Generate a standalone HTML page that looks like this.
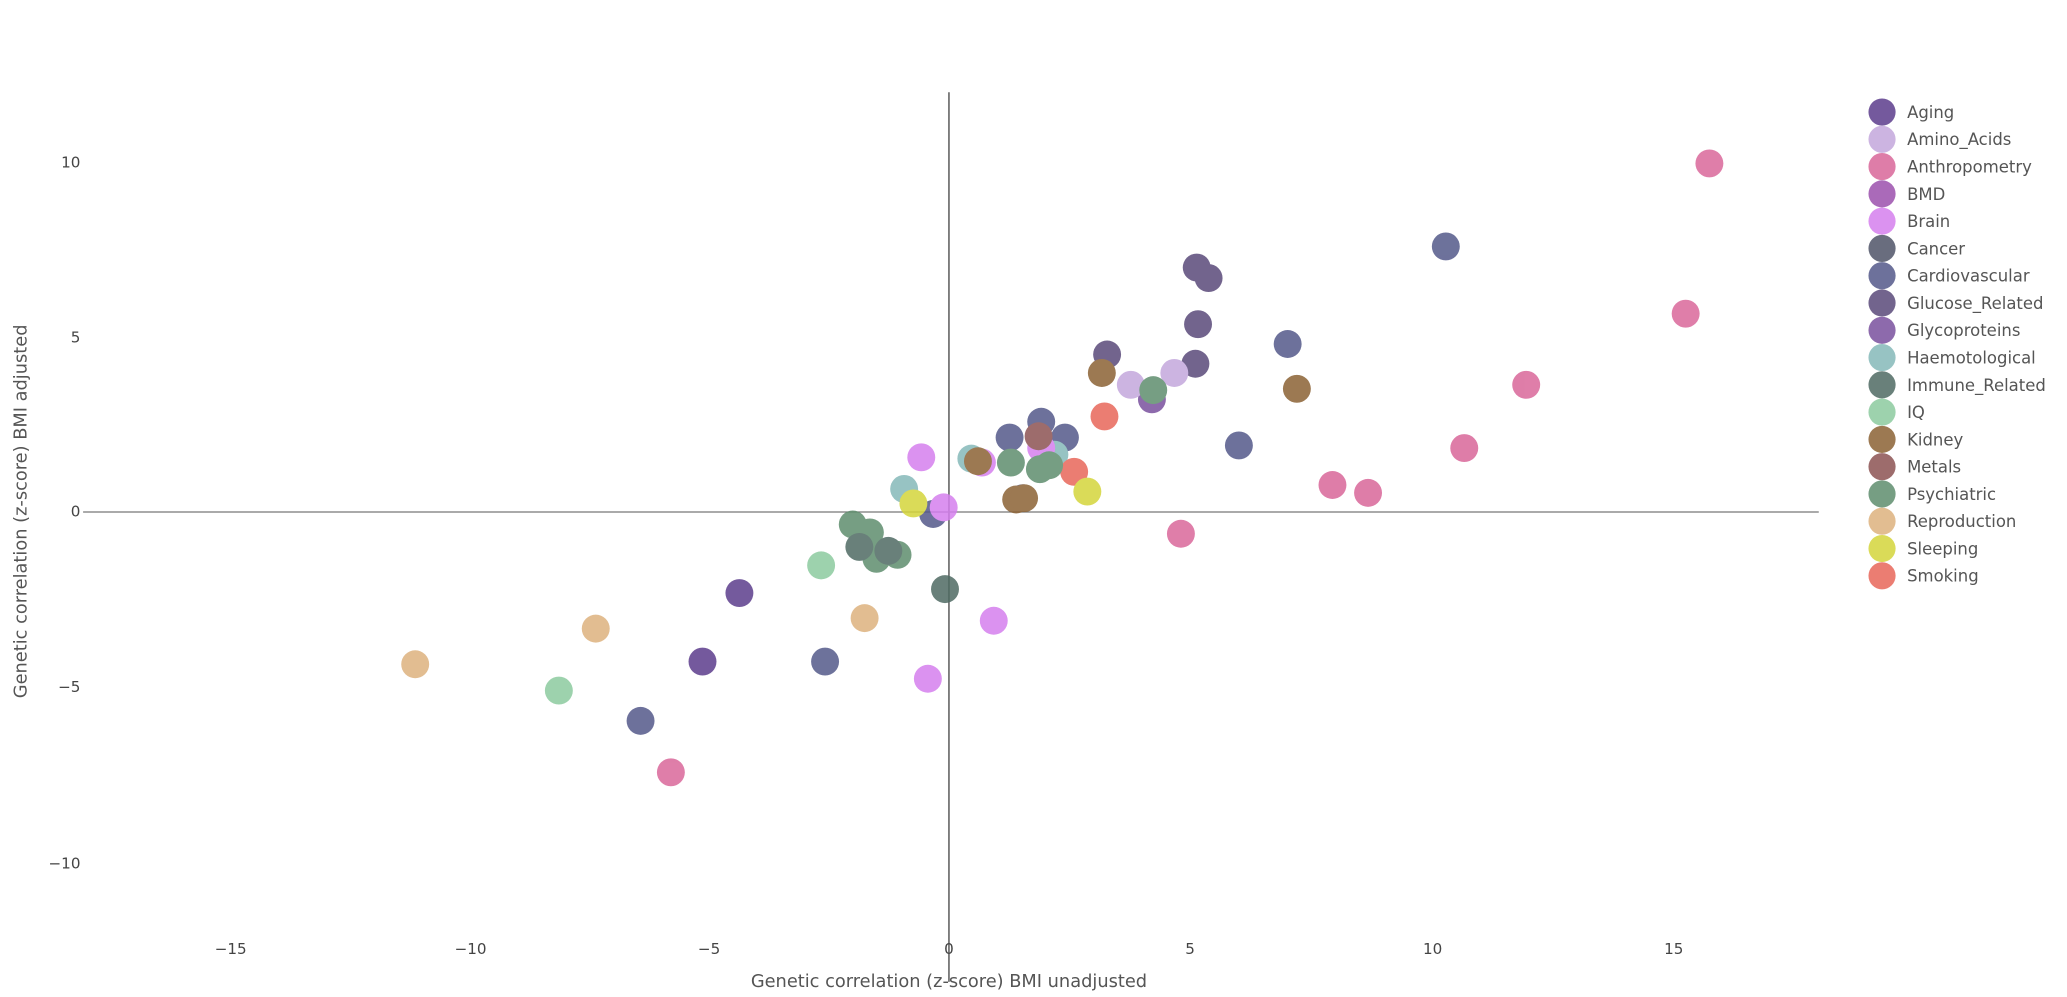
<!DOCTYPE html>
<html><head><meta charset="utf-8"><style>html,body{margin:0;padding:0;background:#fff;}svg{display:block;}</style></head>
<body>
<svg width="2067" height="997" viewBox="0 0 1568.3 756.5" xmlns="http://www.w3.org/2000/svg" font-family="'DejaVu Sans','Liberation Sans',sans-serif">
<rect width="1568.3" height="756.5" fill="#fff"/>
<line x1="720" y1="70" x2="720" y2="745" stroke="#444" stroke-width="1"/>
<line x1="63" y1="388.5" x2="1380" y2="388.5" stroke="#777" stroke-width="1"/>
<g fill="#444" font-size="11.5" text-anchor="end">
<text x="61" y="127">10</text><text x="61" y="260">5</text><text x="61" y="392">0</text><text x="61" y="525">−5</text><text x="61" y="659">−10</text>
</g>
<g fill="#444" font-size="11.5" text-anchor="middle">
<text x="175" y="724">−15</text><text x="357" y="724">−10</text><text x="538" y="724">−5</text><text x="720" y="724">0</text><text x="903" y="724">5</text><text x="1087" y="724">10</text><text x="1270" y="724">15</text>
</g>
<text x="720" y="749" text-anchor="middle" font-size="13.5" fill="#555">Genetic correlation (z-score) BMI unadjusted</text>
<text transform="translate(20,388) rotate(-90)" text-anchor="middle" font-size="13.5" fill="#555">Genetic correlation (z-score) BMI adjusted</text>
<g opacity="0.85">
<g fill="#ddb27e"><circle cx="315" cy="504" r="10.6"/><circle cx="452" cy="477" r="10.6"/><circle cx="656" cy="469" r="10.6"/></g>
<g fill="#8ccb9f"><circle cx="623" cy="429" r="10.6"/><circle cx="424" cy="524" r="10.6"/></g>
<g fill="#5c3d8c"><circle cx="561" cy="450" r="10.6"/><circle cx="533" cy="502" r="10.6"/></g>
<g fill="#d9679a"><circle cx="1297" cy="124" r="10.6"/><circle cx="1279" cy="238" r="10.6"/><circle cx="1158" cy="292" r="10.6"/><circle cx="1111" cy="340" r="10.6"/><circle cx="1038" cy="374" r="10.6"/><circle cx="1011" cy="368" r="10.6"/><circle cx="896" cy="405" r="10.6"/><circle cx="509" cy="586" r="10.6"/><circle cx="666" cy="419" r="10.6"/></g>
<g fill="#54598a"><circle cx="1097" cy="187" r="10.6"/><circle cx="977" cy="261" r="10.6"/><circle cx="940" cy="338" r="10.6"/><circle cx="790" cy="320" r="10.6"/><circle cx="808" cy="332" r="10.6"/><circle cx="766" cy="332" r="10.6"/><circle cx="776" cy="378" r="10.6"/><circle cx="626" cy="502" r="10.6"/><circle cx="486" cy="547" r="10.6"/><circle cx="708" cy="390" r="10.6"/></g>
<g fill="#5a4a7a"><circle cx="908" cy="203" r="10.6"/><circle cx="917" cy="211" r="10.6"/><circle cx="909" cy="246" r="10.6"/><circle cx="907" cy="276" r="10.6"/><circle cx="840" cy="269" r="10.6"/></g>
<g fill="#7a519e"><circle cx="874" cy="303" r="10.6"/></g>
<g fill="#c4a8dc"><circle cx="858" cy="292" r="10.6"/><circle cx="891" cy="283" r="10.6"/></g>
<g fill="#85b9b9"><circle cx="686" cy="371" r="10.6"/><circle cx="737" cy="348" r="10.6"/><circle cx="800" cy="345" r="10.6"/></g>
<g fill="#d57fee"><circle cx="699" cy="347" r="10.6"/><circle cx="716" cy="385" r="10.6"/><circle cx="704" cy="515" r="10.6"/><circle cx="754" cy="471" r="10.6"/><circle cx="745" cy="351" r="10.6"/><circle cx="790" cy="340" r="10.6"/></g>
<g fill="#8b6235"><circle cx="836" cy="283" r="10.6"/><circle cx="984" cy="295" r="10.6"/><circle cx="742" cy="350" r="10.6"/><circle cx="771" cy="379" r="10.6"/><circle cx="777" cy="378" r="10.6"/></g>
<g fill="#8c5353"><circle cx="788" cy="331" r="10.6"/></g>
<g fill="#e8675a"><circle cx="838" cy="316" r="10.6"/><circle cx="815" cy="358" r="10.6"/></g>
<g fill="#5f8e6e"><circle cx="875" cy="296" r="10.6"/><circle cx="767" cy="351" r="10.6"/><circle cx="789" cy="356" r="10.6"/><circle cx="796" cy="353" r="10.6"/><circle cx="647" cy="398" r="10.6"/><circle cx="660" cy="404" r="10.6"/><circle cx="681" cy="421" r="10.6"/><circle cx="665" cy="424" r="10.6"/></g>
<g fill="#4f6b63"><circle cx="652" cy="415" r="10.6"/><circle cx="674" cy="418" r="10.6"/><circle cx="717" cy="447" r="10.6"/></g>
<g fill="#d4d53b"><circle cx="693" cy="382" r="10.6"/><circle cx="825" cy="373" r="10.6"/></g>
</g>
<g font-size="12.5" fill="#555" opacity="1">
<g opacity="0.85">
<circle cx="1428" cy="85" r="10.3" fill="#5c3d8c"/><circle cx="1428" cy="105.7" r="10.3" fill="#c4a8dc"/><circle cx="1428" cy="126.4" r="10.3" fill="#d9679a"/><circle cx="1428" cy="147.1" r="10.3" fill="#9c51ad"/><circle cx="1428" cy="167.8" r="10.3" fill="#d57fee"/><circle cx="1428" cy="188.5" r="10.3" fill="#4f5468"/><circle cx="1428" cy="209.2" r="10.3" fill="#54598a"/><circle cx="1428" cy="229.9" r="10.3" fill="#5a4a7a"/><circle cx="1428" cy="250.6" r="10.3" fill="#7a519e"/><circle cx="1428" cy="271.3" r="10.3" fill="#85b9b9"/><circle cx="1428" cy="292" r="10.3" fill="#4f6b63"/><circle cx="1428" cy="312.7" r="10.3" fill="#8ccb9f"/><circle cx="1428" cy="333.4" r="10.3" fill="#8b6235"/><circle cx="1428" cy="354.1" r="10.3" fill="#8c5353"/><circle cx="1428" cy="374.8" r="10.3" fill="#5f8e6e"/><circle cx="1428" cy="395.5" r="10.3" fill="#ddb27e"/><circle cx="1428" cy="416.2" r="10.3" fill="#d4d53b"/><circle cx="1428" cy="436.9" r="10.3" fill="#e8675a"/>
</g>
<text x="1447" y="89.5">Aging</text><text x="1447" y="110.2">Amino_Acids</text><text x="1447" y="130.9">Anthropometry</text><text x="1447" y="151.6">BMD</text><text x="1447" y="172.3">Brain</text><text x="1447" y="193">Cancer</text><text x="1447" y="213.7">Cardiovascular</text><text x="1447" y="234.4">Glucose_Related</text><text x="1447" y="255.1">Glycoproteins</text><text x="1447" y="275.8">Haemotological</text><text x="1447" y="296.5">Immune_Related</text><text x="1447" y="317.2">IQ</text><text x="1447" y="337.9">Kidney</text><text x="1447" y="358.6">Metals</text><text x="1447" y="379.3">Psychiatric</text><text x="1447" y="400">Reproduction</text><text x="1447" y="420.7">Sleeping</text><text x="1447" y="441.4">Smoking</text>
</g>
</svg>
</body></html>
